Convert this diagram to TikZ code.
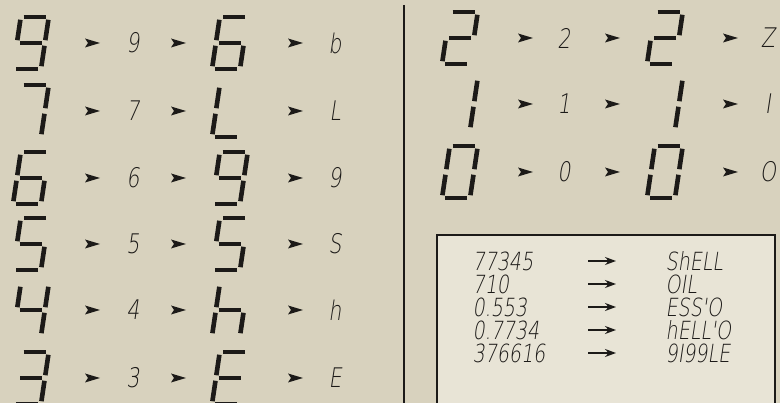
\documentclass[tikz,border=0pt]{standalone}
\usepackage{fontspec}
\newfontfamily\lcdfont{DejaVu Sans ExtraLight}[FakeSlant=0.15,FakeStretch=0.76]
\usetikzlibrary{arrows.meta}
\definecolor{paper}{RGB}{216,210,190}
\definecolor{card}{RGB}{232,228,214}
\definecolor{ink}{RGB}{28,26,24}

\tikzset{
  seg/.style={ink,line width=4.6pt,shorten <=2.8pt,shorten >=2.8pt},
  lbl/.style={ink,font=\lcdfont\fontsize{27}{27}\selectfont},
  entry/.style={ink,font=\lcdfont\fontsize{25}{25}\selectfont,anchor=west,inner sep=0.5pt},
}

% segments of the display, by corner names
\newcommand{\segZero}{tl/tr,tr/mr,mr/br,br/bl,bl/ml,ml/tl}
\newcommand{\segOne}{tr/mr,mr/br}
\newcommand{\segTwo}{tl/tr,tr/mr,mr/ml,ml/bl,bl/br}
\newcommand{\segThree}{tl/tr,tr/mr,mr/ml,mr/br,br/bl}
\newcommand{\segFour}{tl/ml,ml/mr,tr/mr,mr/br}
\newcommand{\segFive}{tr/tl,tl/ml,ml/mr,mr/br,br/bl}
\newcommand{\segSix}{tr/tl,tl/ml,ml/bl,bl/br,br/mr,mr/ml}
\newcommand{\segSeven}{tl/tr,tr/mr,mr/br}
\newcommand{\segNine}{ml/tl,tl/tr,tr/mr,mr/ml,mr/br,br/bl}
\newcommand{\segEll}{tl/ml,ml/bl,bl/br}
\newcommand{\segAitch}{tl/ml,ml/bl,ml/mr,mr/br}
\newcommand{\segEe}{tr/tl,tl/ml,ml/mr,ml/bl,bl/br}

% #1,#2 centre of the digit, #3 segment list
\newcommand{\lcd}[3]{%
  \begin{scope}[shift={(#1-18,#2-26)},xslant=0.15]
    \coordinate (tl) at (0,52); \coordinate (tr) at (28,52);
    \coordinate (ml) at (0,26); \coordinate (mr) at (28,26);
    \coordinate (bl) at (0,0);  \coordinate (br) at (28,0);
    \foreach \p/\q in #3 {\draw[seg] (\p) -- (\q);}
  \end{scope}}

% small arrow head at #1,#2
\newcommand{\rowtip}[2]{%
  \fill[ink] (#1+8,#2) -- (#1-7,#2+4.5) -- (#1-4,#2) -- (#1-7,#2-4.5) -- cycle;}

\begin{document}
\begin{tikzpicture}[x=1pt,y=1pt]
\useasboundingbox (0,0) rectangle (780,403);
\clip (0,0) rectangle (780,403);
\fill[paper] (0,0) rectangle (780,403);

% left half
\lcd{31}{360}{\segNine}  \rowtip{92}{360} \node[lbl] (s9) at (133,360) {9};
\rowtip{178}{360} \lcd{230}{360}{\segSix}  \rowtip{295}{360} \node[lbl] (l9) at (335,360) {b};
\lcd{31}{292}{\segSeven} \rowtip{92}{292} \node[lbl] (s7) at (133,292) {7};
\rowtip{178}{292} \lcd{230}{292}{\segEll}  \rowtip{295}{292} \node[lbl] (l7) at (335,292) {L};
\lcd{31}{225}{\segSix}   \rowtip{92}{225} \node[lbl] (s6) at (133,225) {6};
\rowtip{178}{225} \lcd{230}{225}{\segNine} \rowtip{295}{225} \node[lbl] (l6) at (335,225) {9};
\lcd{31}{159}{\segFive}  \rowtip{92}{159} \node[lbl] (s5) at (133,159) {5};
\rowtip{178}{159} \lcd{230}{159}{\segFive} \rowtip{295}{159} \node[lbl] (l5) at (335,159) {S};
\lcd{31}{93}{\segFour}   \rowtip{92}{93}  \node[lbl] (s4) at (133,93) {4};
\rowtip{178}{93}  \lcd{230}{93}{\segAitch} \rowtip{295}{93}  \node[lbl] (l4) at (335,93) {h};
\lcd{31}{25}{\segThree}  \rowtip{92}{25}  \node[lbl] (s3) at (133,25) {3};
\rowtip{178}{25}  \lcd{230}{25}{\segEe}    \rowtip{295}{25}  \node[lbl] (l3) at (335,25) {E};

% divider
\draw[ink,line width=2pt] (404,398) -- (404,-5);

% right half
\lcd{460}{365}{\segTwo}  \rowtip{525}{365} \node[lbl] (s2) at (564,365) {2};
\rowtip{612}{365} \lcd{665}{365}{\segTwo} \rowtip{730}{365} \node[lbl] (l2) at (768,365) {Z};
\lcd{460}{299}{\segOne}  \rowtip{525}{299} \node[lbl] (s1) at (564,299) {1};
\rowtip{612}{299} \lcd{665}{299}{\segOne} \rowtip{730}{299} \node[lbl] (l1) at (768,299) {I};
\lcd{460}{231}{\segZero} \rowtip{525}{231} \node[lbl] (s0) at (564,231) {0};
\rowtip{612}{231} \lcd{665}{231}{\segZero} \rowtip{730}{231} \node[lbl] (l0) at (768,231) {O};

% table of words
\draw[ink,line width=1.8pt,fill=card] (437,168) rectangle (775,-10);
\node[entry] (n1) at (472,142) {77345};  \node[entry] (w1) at (665,142) {ShELL};
\node[entry] (n2) at (472,119) {710};    \node[entry] (w2) at (665,119) {OIL};
\node[entry] (n3) at (472,96)  {0.553};  \node[entry] (w3) at (665,96)  {ESS'O};
\node[entry] (n4) at (472,73)  {0.7734}; \node[entry] (w4) at (665,73)  {hELL'O};
\node[entry] (n5) at (472,50)  {376616}; \node[entry] (w5) at (665,50)  {9I99LE};
\foreach \y [count=\i] in {142,119,96,73,50}{
  \coordinate (a\i) at (588,\y); \coordinate (b\i) at (616,\y);
  \draw[ink,line width=1.4pt,-{Stealth[length=11pt,width=8pt]}] (a\i) -- (b\i);
}
\end{tikzpicture}
\end{document}
